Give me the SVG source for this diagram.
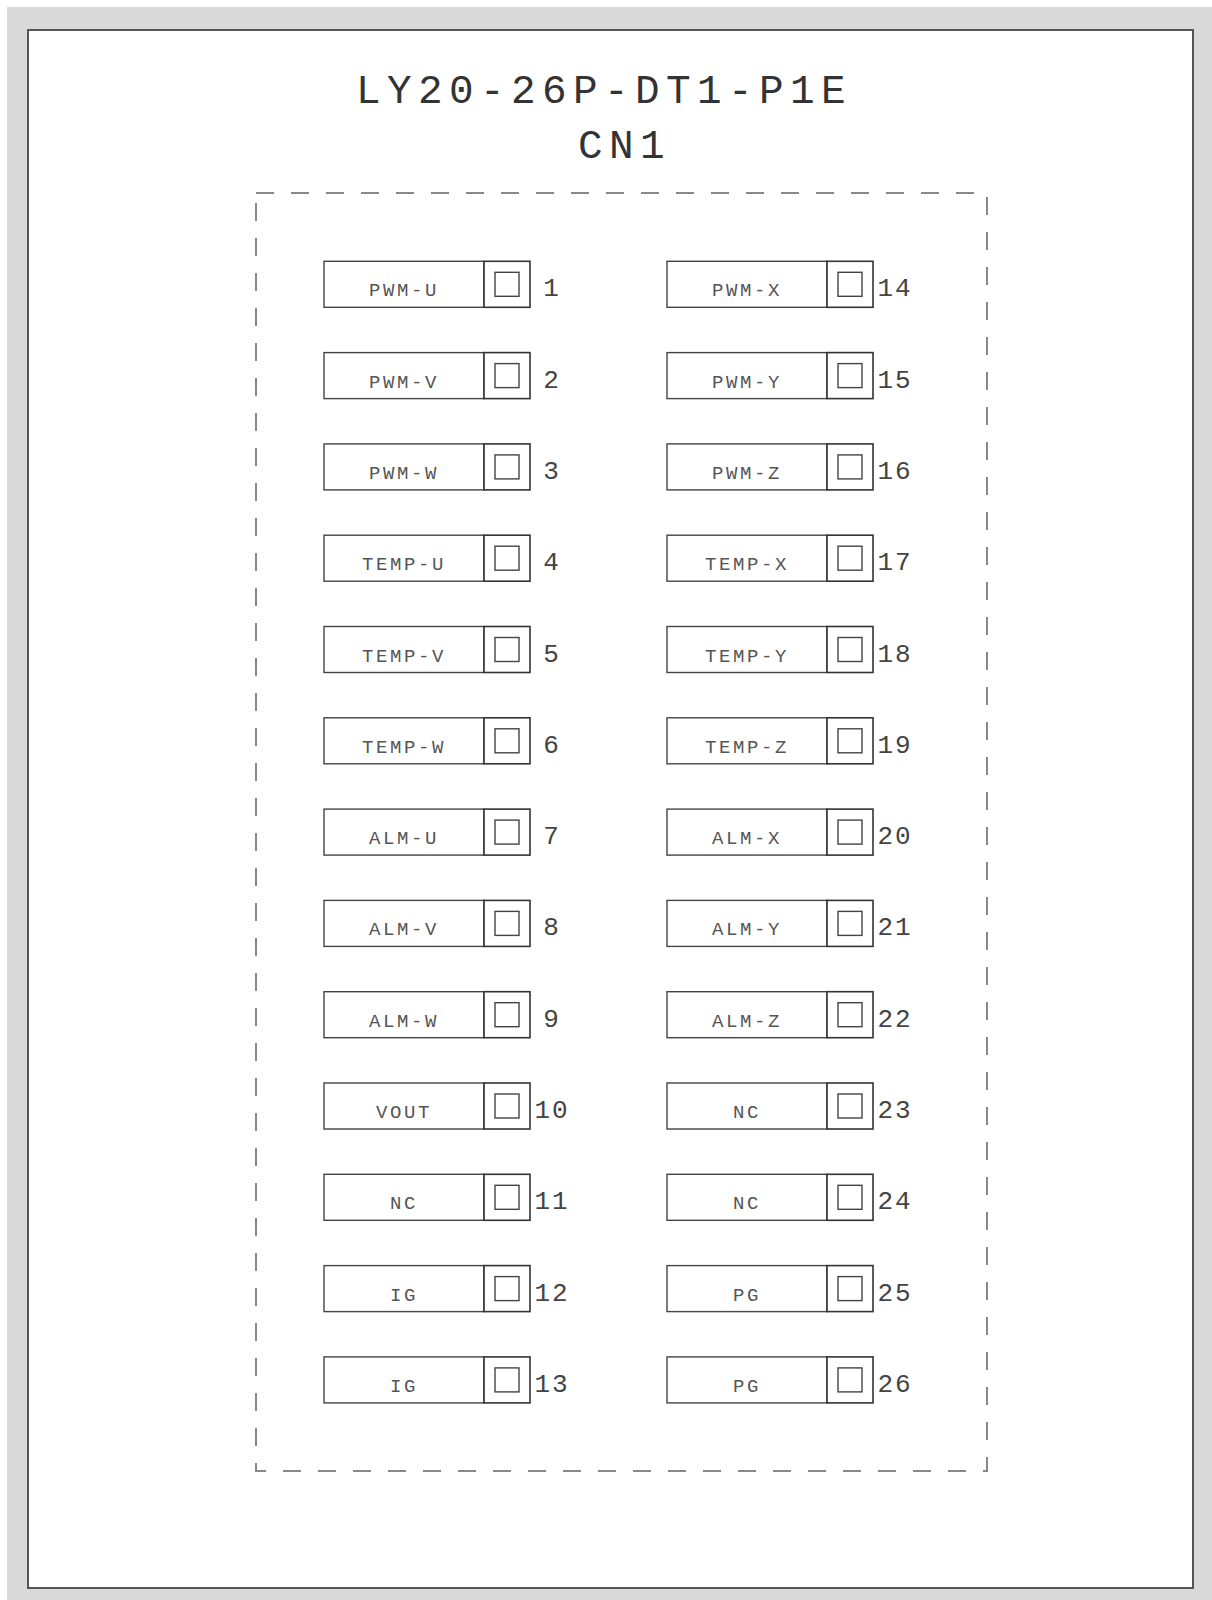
<svg xmlns="http://www.w3.org/2000/svg" width="1212" height="1600" viewBox="0 0 1212 1600">
<style>
.bg{fill:#d9d9d9}
.page{fill:#fff;stroke:#555;stroke-width:2}
.dash{fill:none;stroke:#888;stroke-width:2;stroke-dasharray:18 17}
.lb{fill:#fff;stroke:#444;stroke-width:1.4}
.pb{fill:#fff;stroke:#333;stroke-width:1.6}
.sq{fill:#fff;stroke:#444;stroke-width:1.4}
.title{font-family:"Liberation Mono","DejaVu Sans Mono",monospace;font-size:41px;letter-spacing:6.4px;fill:#333}
.lt{font-family:"Liberation Mono","DejaVu Sans Mono",monospace;font-size:19px;letter-spacing:2.6px;fill:#555;text-anchor:middle}
.nt{font-family:"Liberation Mono","DejaVu Sans Mono",monospace;font-size:26px;letter-spacing:2px;fill:#444;text-anchor:middle}
</style>
<defs>
<g id="pinL">
<rect class="lb" x="0" y="0" width="160" height="46"/>
<rect class="pb" x="160" y="0" width="46" height="46"/>
<rect class="sq" x="171" y="11" width="24" height="24"/>
</g>
</defs>
<rect x="0" y="0" width="1212" height="1600" fill="#fff"/>
<rect class="bg" x="7" y="7" width="1205" height="1593"/>
<rect class="page" x="28" y="30" width="1165" height="1558"/>
<text class="title" x="356" y="103">LY20-26P-DT1-P1E</text>
<text class="title" x="578" y="158">CN1</text>
<rect class="dash" x="256" y="193" width="731" height="1278"/>
<g id="connectors"></g>
<g id="pin1" transform="translate(324,261.3)"><use href="#pinL"/><text class="lt" x="80" y="35">PWM-U</text><text class="nt" x="228" y="35">1</text></g>
<g id="pin2" transform="translate(324,352.6)"><use href="#pinL"/><text class="lt" x="80" y="35">PWM-V</text><text class="nt" x="228" y="35">2</text></g>
<g id="pin3" transform="translate(324,443.9)"><use href="#pinL"/><text class="lt" x="80" y="35">PWM-W</text><text class="nt" x="228" y="35">3</text></g>
<g id="pin4" transform="translate(324,535.2)"><use href="#pinL"/><text class="lt" x="80" y="35">TEMP-U</text><text class="nt" x="228" y="35">4</text></g>
<g id="pin5" transform="translate(324,626.5)"><use href="#pinL"/><text class="lt" x="80" y="35">TEMP-V</text><text class="nt" x="228" y="35">5</text></g>
<g id="pin6" transform="translate(324,717.8)"><use href="#pinL"/><text class="lt" x="80" y="35">TEMP-W</text><text class="nt" x="228" y="35">6</text></g>
<g id="pin7" transform="translate(324,809.1)"><use href="#pinL"/><text class="lt" x="80" y="35">ALM-U</text><text class="nt" x="228" y="35">7</text></g>
<g id="pin8" transform="translate(324,900.4)"><use href="#pinL"/><text class="lt" x="80" y="35">ALM-V</text><text class="nt" x="228" y="35">8</text></g>
<g id="pin9" transform="translate(324,991.7)"><use href="#pinL"/><text class="lt" x="80" y="35">ALM-W</text><text class="nt" x="228" y="35">9</text></g>
<g id="pin10" transform="translate(324,1083)"><use href="#pinL"/><text class="lt" x="80" y="35">VOUT</text><text class="nt" x="228" y="35">10</text></g>
<g id="pin11" transform="translate(324,1174.3)"><use href="#pinL"/><text class="lt" x="80" y="35">NC</text><text class="nt" x="228" y="35">11</text></g>
<g id="pin12" transform="translate(324,1265.6)"><use href="#pinL"/><text class="lt" x="80" y="35">IG</text><text class="nt" x="228" y="35">12</text></g>
<g id="pin13" transform="translate(324,1356.9)"><use href="#pinL"/><text class="lt" x="80" y="35">IG</text><text class="nt" x="228" y="35">13</text></g>
<g id="pin14" transform="translate(667,261.3)"><use href="#pinL"/><text class="lt" x="80" y="35">PWM-X</text><text class="nt" x="228" y="35">14</text></g>
<g id="pin15" transform="translate(667,352.6)"><use href="#pinL"/><text class="lt" x="80" y="35">PWM-Y</text><text class="nt" x="228" y="35">15</text></g>
<g id="pin16" transform="translate(667,443.9)"><use href="#pinL"/><text class="lt" x="80" y="35">PWM-Z</text><text class="nt" x="228" y="35">16</text></g>
<g id="pin17" transform="translate(667,535.2)"><use href="#pinL"/><text class="lt" x="80" y="35">TEMP-X</text><text class="nt" x="228" y="35">17</text></g>
<g id="pin18" transform="translate(667,626.5)"><use href="#pinL"/><text class="lt" x="80" y="35">TEMP-Y</text><text class="nt" x="228" y="35">18</text></g>
<g id="pin19" transform="translate(667,717.8)"><use href="#pinL"/><text class="lt" x="80" y="35">TEMP-Z</text><text class="nt" x="228" y="35">19</text></g>
<g id="pin20" transform="translate(667,809.1)"><use href="#pinL"/><text class="lt" x="80" y="35">ALM-X</text><text class="nt" x="228" y="35">20</text></g>
<g id="pin21" transform="translate(667,900.4)"><use href="#pinL"/><text class="lt" x="80" y="35">ALM-Y</text><text class="nt" x="228" y="35">21</text></g>
<g id="pin22" transform="translate(667,991.7)"><use href="#pinL"/><text class="lt" x="80" y="35">ALM-Z</text><text class="nt" x="228" y="35">22</text></g>
<g id="pin23" transform="translate(667,1083)"><use href="#pinL"/><text class="lt" x="80" y="35">NC</text><text class="nt" x="228" y="35">23</text></g>
<g id="pin24" transform="translate(667,1174.3)"><use href="#pinL"/><text class="lt" x="80" y="35">NC</text><text class="nt" x="228" y="35">24</text></g>
<g id="pin25" transform="translate(667,1265.6)"><use href="#pinL"/><text class="lt" x="80" y="35">PG</text><text class="nt" x="228" y="35">25</text></g>
<g id="pin26" transform="translate(667,1356.9)"><use href="#pinL"/><text class="lt" x="80" y="35">PG</text><text class="nt" x="228" y="35">26</text></g>
</svg>
